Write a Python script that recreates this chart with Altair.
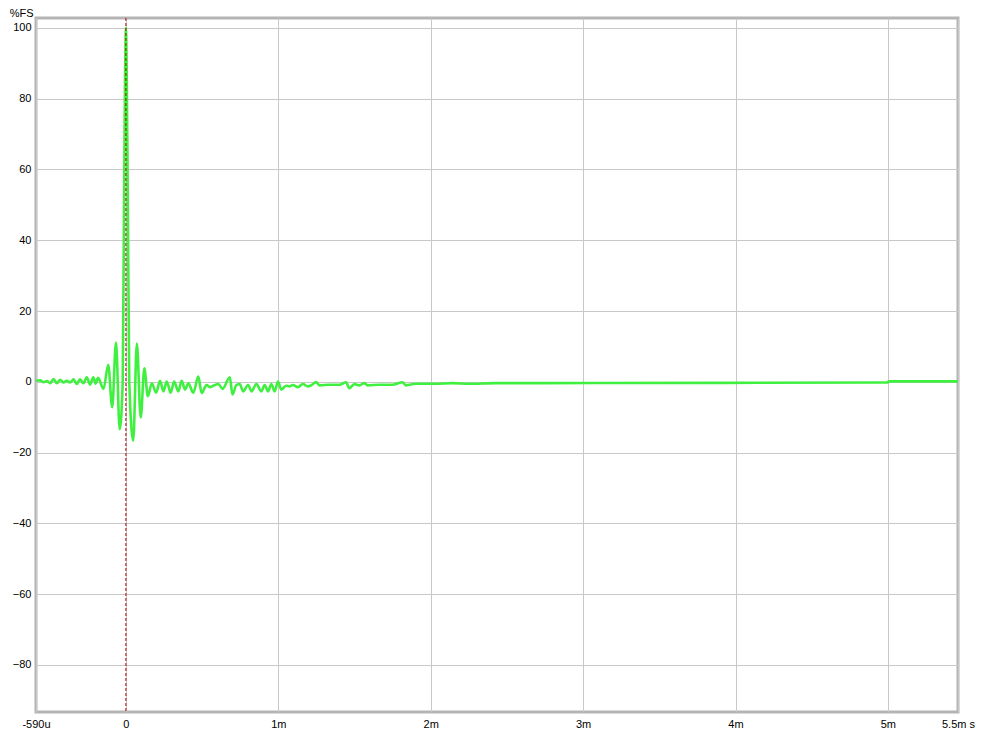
import altair as alt
import pandas as pd

# time in ms, amplitude in %FS
t_ms = [-0.59, -0.562, -0.541, -0.518, -0.497, -0.475, -0.453, -0.431, -0.410, -0.388,
        -0.366, -0.344, -0.322, -0.301, -0.279, -0.257, -0.235, -0.214, -0.199, -0.183,
        -0.147, -0.116, -0.090, -0.065, -0.041, -0.021, -0.009, 0.0, 0.010, 0.022,
        0.048, 0.072, 0.097, 0.121, 0.144, 0.170, 0.198, 0.224, 0.246, 0.268,
        0.294, 0.316, 0.344, 0.366, 0.388, 0.410, 0.442, 0.475, 0.497, 0.529,
        0.551, 0.573, 0.606, 0.634, 0.682, 0.699, 0.725, 0.747, 0.769, 0.802,
        0.824, 0.856, 0.889, 0.910, 0.933, 0.954, 0.976, 0.998, 1.020, 1.052,
        1.074, 1.096, 1.129, 1.161, 1.194, 1.216, 1.248, 1.270, 1.333, 1.401,
        1.444, 1.466, 1.499, 1.531, 1.564, 1.586, 1.662, 1.750, 1.815, 1.837,
        1.902, 2.033, 2.142, 2.250, 2.425, 3.078, 3.928, 4.974, 5.0, 5.006, 5.46]
amp = [0.3, 0.4, -0.1, 0.2, -0.4, 0.8, -0.4, 0.6, -0.2, 0.3,
       -0.2, 0.7, -0.6, 0.7, -0.4, 1.3, -0.8, 1.3, -0.5, 1.1,
       -2.0, 4.8, -7.2, 11.1, -13.4, 0.0, 70.0, 100.0, 65.0, 0.0,
       -16.6, 10.8, -10.1, 3.8, -4.1, -0.4, -3.1, 0.3, -2.7, 0.1,
       -3.1, 0.1, -2.7, 0.3, -2.2, -0.4, -3.1, 1.5, -3.2, -0.9,
       -1.5, -1.1, -0.6, -2.0, 1.3, -3.6, -0.9, -0.6, -2.7, -0.9,
       -2.7, -0.6, -2.7, -0.9, -2.7, -0.6, -2.7, 0.05, -2.2, -1.1,
       -1.3, -0.9, -1.5, -0.6, -1.3, -1.0, -0.1, -1.0, -0.84, -0.84,
       -0.14, -1.8, -0.65, -1.0, -0.37, -1.0, -0.84, -0.84, -0.14, -1.0,
       -0.55, -0.55, -0.37, -0.55, -0.37, -0.35, -0.3, -0.2, -0.2, 0.12, 0.12]

x_ticks = [-0.59, 0, 1, 2, 3, 4, 5, 5.46]
y_ticks = [-80, -60, -40, -20, 0, 20, 40, 60, 80, 100]

df = pd.DataFrame({"t": t_ms, "v": amp})

x_enc = alt.X("t:Q", scale=alt.Scale(domain=[-0.59, 5.46], nice=False, zero=False),
              axis=alt.Axis(values=x_ticks, title=None, labelFlush=False,
                            labelExpr="datum.value < -0.5 ? '-590u' : datum.value == 0 ? '0' : datum.value > 5.4 ? '5.5m s' : format(datum.value, 'd') + 'm'",
                            labelPadding=6))
y_enc = alt.Y("v:Q", scale=alt.Scale(domain=[-93.3, 102.8], nice=False, zero=False),
              axis=alt.Axis(values=y_ticks, title="%FS", titleAngle=0, titleAlign="right",
                            titleBaseline="alphabetic", titleX=-3, titleY=-2,
                            titleFontWeight="normal", titleFontSize=11,
                            titleFont="Liberation Sans", labelPadding=5))

line = alt.Chart(df).mark_line(color="#40f040", strokeWidth=2.6, interpolate="monotone").encode(
    x=x_enc, y=y_enc)

rule = alt.Chart(pd.DataFrame({"t": [0.0]})).mark_rule(
    color="#b00000", strokeWidth=1, strokeDash=[3, 2]).encode(x="t:Q")

chart = alt.layer(line, rule).properties(
    width=922, height=694,
    autosize=alt.AutoSizeParams(type="none"),
    padding={"left": 28, "top": 10, "right": 17, "bottom": 18},
    background="white",
).configure_view(
    stroke="#b4b4b4", strokeWidth=3
).configure_axis(
    grid=True, gridColor="#c8c8c8", gridWidth=1, domain=False, ticks=False,
    labelFont="Liberation Sans", labelFontSize=11, labelColor="#000000",
)

chart.save("out.html", embed_options={"renderer": "svg", "actions": False})
